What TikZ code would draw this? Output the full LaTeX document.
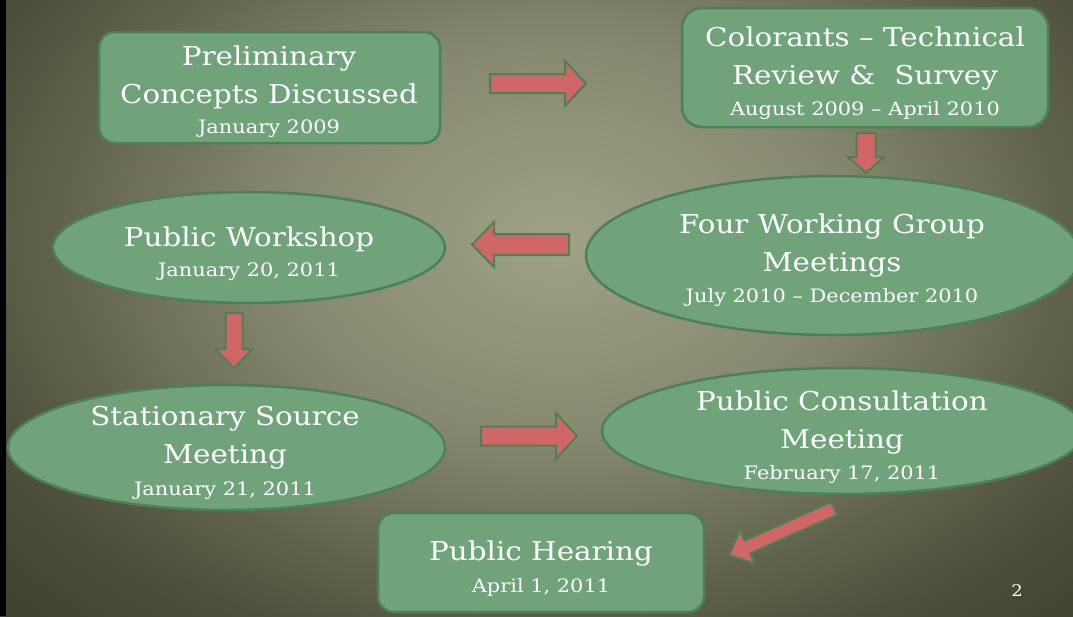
\documentclass[tikz,border=0pt]{standalone}
\usepackage{fontspec}
\setmainfont{DejaVu Serif}[FakeStretch=1.13]
\usetikzlibrary{calc,shapes.geometric}

\definecolor{bglight}{RGB}{160,162,134}
\definecolor{bgmid}{RGB}{134,136,109}
\definecolor{bgdeep}{RGB}{96,98,75}
\definecolor{bgdark}{RGB}{74,76,56}
\definecolor{bgedge}{RGB}{57,59,41}
\definecolor{stagefill}{RGB}{112,163,121}
\definecolor{stageline}{RGB}{78,128,88}
\definecolor{arrowfill}{RGB}{208,102,102}

\pgfdeclareradialshading{bgglow}{\pgfpointorigin}{color(0bp)=(bglight); color(12bp)=(bgmid); color(21bp)=(bgdeep); color(27bp)=(bgdark); color(36bp)=(bgedge); color(50bp)=(bgedge)}

\newcommand{\titlesize}{\fontsize{26}{38}\selectfont}
\newcommand{\datesize}{\fontsize{18.5}{22}\selectfont}

% fleche pleine : queue, pointe, demi-fut, demi-tete, longueur de tete
\newcommand{\blockarrow}[5]{%
  \coordinate (ba-h) at ($(#2)!#5!(#1)$);
  \draw[blockarrow] ($(#1)!#3!90:(#2)$) -- ($(ba-h)!#3!-90:(#1)$) -- ($(ba-h)!#4!-90:(#1)$)
    -- (#2) -- ($(ba-h)!#4!90:(#1)$) -- ($(ba-h)!#3!90:(#1)$) -- ($(#1)!#3!-90:(#2)$) -- cycle;
}

\tikzset{
  stagebox/.style={draw=stageline, fill=stagefill, line width=2.5pt, rounded corners=16pt, inner sep=0pt},
  stageoval/.style={ellipse, draw=stageline, fill=stagefill, line width=2.5pt, inner sep=0pt},
  stagetext/.style={text=white, align=center, font=\titlesize, anchor=base, inner sep=0pt},
  blockarrow/.style={draw=stageline, fill=arrowfill, line width=2pt, line join=miter}
}

\begin{document}
\begin{tikzpicture}[x=1pt,y=-1pt]
      \useasboundingbox (0,0) rectangle (1073,616);

      % FOND
      \fill[white] (0,0) rectangle (1073,616);
      \begin{scope}
        \clip (0,0) rectangle (1073,616);
        \shade[shading=bgglow] (-40,-180) rectangle (1160,660);
      \end{scope}
      \fill[black] (0,0) rectangle (6,616);

      % ETAPES
      \node[stagebox, minimum width=341, minimum height=111] (prelim) at (269.5,87.5) {};
      \node[stagebox, minimum width=366, minimum height=119, rounded corners=20pt] (colorants) at (865,67.5) {};
      \node[stageoval, minimum width=392, minimum height=111] (workshop) at (249,247.5) {};
      \node[stageoval, minimum width=494, minimum height=159] (working) at (833,255.5) {};
      \node[stageoval, minimum width=437, minimum height=125] (stationary) at (226.5,447.5) {};
      \node[stageoval, minimum width=482, minimum height=126] (consult) at (843,431) {};
      \node[stagebox, minimum width=326, minimum height=99] (hearing) at (541,562.5) {};

      % TEXTES (base = derniere ligne)
      \node[stagetext] (prelim-txt) at (269,133) {Preliminary\\Concepts Discussed\\[-8pt]\datesize January 2009};
      \node[stagetext] (colorants-txt) at (865,115) {Colorants -- Technical\\Review \&~ Survey\\[-7pt]\datesize August 2009 -- April 2010};
      \node[stagetext] (workshop-txt) at (249,276) {Public Workshop\\[-8pt]\datesize January 20, 2011};
      \node[stagetext] (working-txt) at (832,302) {Four Working Group\\Meetings\\[-7pt]\datesize July 2010 -- December 2010};
      \node[stagetext] (stationary-txt) at (225,495) {Stationary Source\\Meeting\\[-6pt]\datesize January 21, 2011};
      \node[stagetext] (consult-txt) at (842,479) {Public Consultation\\Meeting\\[-7pt]\datesize February 17, 2011};
      \node[stagetext] (hearing-txt) at (541,592) {Public Hearing\\[-6pt]\datesize April 1, 2011};

      % FLECHES
      \coordinate (a1-tail) at (490,83.5);
      \coordinate (a1-tip) at (586,83.5);
      \coordinate (a2-tail) at (866,133);
      \coordinate (a2-tip) at (866,173);
      \coordinate (a3-tail) at (569,244.5);
      \coordinate (a3-tip) at (472,244.5);
      \coordinate (a4-tail) at (234,313);
      \coordinate (a4-tip) at (234,368);
      \coordinate (a5-tail) at (481,436);
      \coordinate (a5-tip) at (577,436);
      \coordinate (a6-tail) at (834,508.5);
      \coordinate (a6-tip) at (729,555);

      \blockarrow{a1-tail}{a1-tip}{9.5pt}{22.5pt}{21pt}
      \blockarrow{a2-tail}{a2-tip}{9.5pt}{18pt}{16pt}
      \blockarrow{a3-tail}{a3-tip}{10.5pt}{22.5pt}{22pt}
      \blockarrow{a4-tail}{a4-tip}{8.5pt}{18.5pt}{19pt}
      \blockarrow{a5-tail}{a5-tip}{9.5pt}{23pt}{21pt}
      \blockarrow{a6-tail}{a6-tip}{7pt}{18pt}{20pt}

      \node[text=white, font=\fontsize{16}{18}\selectfont, anchor=base] (pagenum) at (1017,596) {2};
\end{tikzpicture}
\end{document}
